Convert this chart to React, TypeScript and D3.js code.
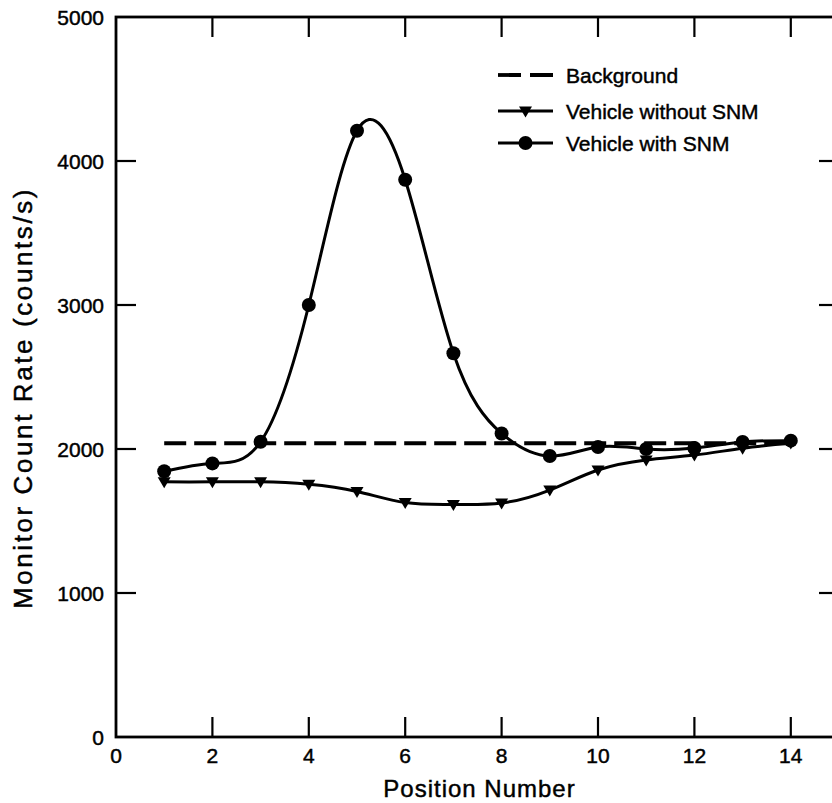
import React from "react";
import * as d3 from "d3";

const positions = [1, 2, 3, 4, 5, 6, 7, 8, 9, 10, 11, 12, 13, 14];
const withSNM = [1845, 1900, 2050, 3000, 4210, 3870, 2665, 2108, 1951, 2014, 2000, 2007, 2049, 2058];
const withoutSNM = [1772, 1772, 1772, 1755, 1705, 1628, 1615, 1625, 1715, 1854, 1924, 1958, 2005, 2042];
const bgPositions = [1, 14];
const bgValues = [2040, 2040];
const xTicks = [0, 2, 4, 6, 8, 10, 12, 14];
const yTicks = [0, 1000, 2000, 3000, 4000, 5000];
const legendLabels = ["Background", "Vehicle without SNM", "Vehicle with SNM"];

const W = 832;
const H = 803;
const FONT = "'Liberation Sans', Arial, Helvetica, sans-serif";

export default function App() {
  const x = d3.scaleLinear().domain([0, 15]).range([116, 839]);
  const y = d3.scaleLinear().domain([0, 5000]).range([737, 17]);
  const line = d3
    .line<[number, number]>()
    .x((d) => x(d[0]))
    .y((d) => y(d[1]))
    .curve(d3.curveNatural);
  const straight = d3
    .line<[number, number]>()
    .x((d) => x(d[0]))
    .y((d) => y(d[1]));
  const snmPts = positions.map((p, i) => [p, withSNM[i]] as [number, number]);
  const noPts = positions.map((p, i) => [p, withoutSNM[i]] as [number, number]);
  const bgPts = bgPositions.map((p, i) => [p, bgValues[i]] as [number, number]);
  const tri = (cx: number, cy: number, s = 6.5) =>
    `M${cx - s},${cy - s * 0.7}L${cx + s},${cy - s * 0.7}L${cx},${cy + s}Z`;
  const [x0, x1] = x.range();
  const [yb, yt] = y.range();
  const tickLen = 20;
  const legX = 498;
  const legY = [75, 111, 143];
  const txt = { fill: "#000", stroke: "#000", strokeWidth: 0.45 };
  return (
    <svg
      width={W}
      height={H}
      style={{ position: "absolute", left: 0, top: 0, background: "#fff" }}
      fontFamily={FONT}
    >
      <rect x={0} y={0} width={W} height={H} fill="#fff" />
      {/* frame */}
      <rect x={x0} y={yt} width={x1 - x0} height={yb - yt} fill="none" stroke="#000" strokeWidth={2.8} />
      {/* x ticks */}
      {xTicks.map((t) => (
        <g key={"xt" + t}>
          {t > 0 && <line x1={x(t)} x2={x(t)} y1={yb} y2={yb - tickLen} stroke="#000" strokeWidth={2.2} />}
          {t > 0 && <line x1={x(t)} x2={x(t)} y1={yt} y2={yt + tickLen} stroke="#000" strokeWidth={2.2} />}
          <text x={x(t)} y={763} textAnchor="middle" fontSize={21} {...txt}>
            {t}
          </text>
        </g>
      ))}
      {/* y ticks */}
      {yTicks.map((t) => (
        <g key={"yt" + t}>
          {t > 0 && t < 5000 && <line x1={x0} x2={x0 + tickLen} y1={y(t)} y2={y(t)} stroke="#000" strokeWidth={2.2} />}
          {t > 0 && t < 5000 && <line x1={x1} x2={x1 - tickLen} y1={y(t)} y2={y(t)} stroke="#000" strokeWidth={2.2} />}
          <text x={104} y={y(t) + 7.5} textAnchor="end" fontSize={21} {...txt}>
            {t}
          </text>
        </g>
      ))}
      {/* background */}
      <path d={straight(bgPts) || ""} fill="none" stroke="#000" strokeWidth={3.8} strokeDasharray="22,8" />
      {/* without SNM */}
      <path d={line(noPts) || ""} fill="none" stroke="#000" strokeWidth={3} />
      {noPts.map((d, i) => (
        <path key={"tr" + i} d={tri(x(d[0]), y(d[1]))} fill="#000" />
      ))}
      {/* with SNM */}
      <path d={line(snmPts) || ""} fill="none" stroke="#000" strokeWidth={3} />
      {snmPts.map((d, i) => (
        <circle key={"c" + i} cx={x(d[0])} cy={y(d[1])} r={7} fill="#000" />
      ))}
      {/* legend */}
      <g>
        <line x1={legX} x2={legX + 55} y1={legY[0]} y2={legY[0]} stroke="#000" strokeWidth={3.8} strokeDasharray="23,9" />
        <line x1={legX} x2={legX + 55} y1={legY[1]} y2={legY[1]} stroke="#000" strokeWidth={3} />
        <path d={tri(legX + 27.5, legY[1])} fill="#000" />
        <line x1={legX} x2={legX + 55} y1={legY[2]} y2={legY[2]} stroke="#000" strokeWidth={3} />
        <circle cx={legX + 27.5} cy={legY[2]} r={7} fill="#000" />
        {legendLabels.map((l, i) => (
          <text key={l} x={566} y={legY[i] + 7.5} fontSize={21} {...txt}>
            {l}
          </text>
        ))}
      </g>
      {/* axis titles */}
      <text x={x(7.5) + 2} y={797} textAnchor="middle" fontSize={24} letterSpacing={1} {...txt}>
        Position Number
      </text>
      <text
        transform={`translate(32, 398) rotate(-90)`}
        textAnchor="middle"
        fontSize={26}
        letterSpacing={2.6}
        {...txt}
      >
        Monitor Count Rate (counts/s)
      </text>
    </svg>
  );
}
